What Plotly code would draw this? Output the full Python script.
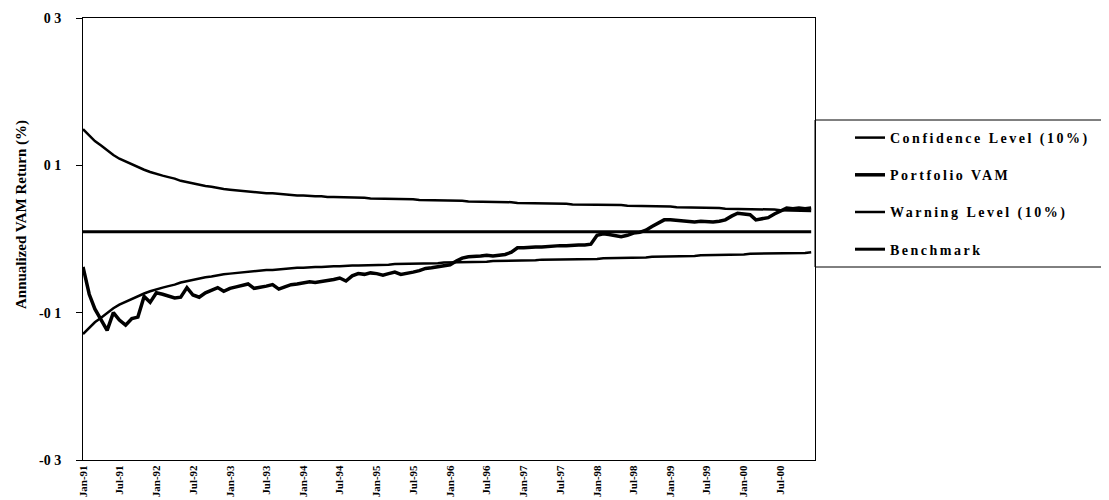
import pandas as pd
import plotly.graph_objects as go

# ---- data ----
start_month = "1991-01-01"

confidence = [0.149, 0.140, 0.133, 0.127, 0.120, 0.114, 0.109, 0.105, 0.101, 0.097,
              0.094, 0.091, 0.088, 0.086, 0.084, 0.082, 0.079, 0.077, 0.075, 0.073,
              0.072, 0.071, 0.069, 0.068, 0.067, 0.066, 0.065, 0.065, 0.064, 0.063,
              0.062, 0.062, 0.061, 0.060, 0.060, 0.059, 0.059, 0.058, 0.058, 0.058,
              0.057, 0.057, 0.057, 0.056, 0.056, 0.056, 0.056, 0.055, 0.055, 0.055,
              0.055, 0.054, 0.054, 0.054, 0.054, 0.053, 0.053, 0.053, 0.053, 0.052,
              0.052, 0.052, 0.052, 0.051, 0.051, 0.051, 0.051, 0.050, 0.050, 0.050,
              0.050, 0.049, 0.049, 0.049, 0.049, 0.048, 0.048, 0.048, 0.048, 0.048,
              0.047, 0.047, 0.047, 0.047, 0.047, 0.046, 0.046, 0.046, 0.046, 0.045,
              0.045, 0.045, 0.045, 0.044, 0.044, 0.044, 0.044, 0.043, 0.043, 0.043,
              0.043, 0.042, 0.042, 0.042, 0.042, 0.041, 0.041, 0.041, 0.041, 0.040,
              0.040, 0.040, 0.040, 0.040, 0.039, 0.039, 0.039, 0.039, 0.039, 0.038]

portfolio = [-0.038, -0.075, -0.095, -0.110, -0.124, -0.100, -0.110, -0.117, -0.108, -0.106,
             -0.078, -0.086, -0.073, -0.075, -0.077, -0.080, -0.079, -0.066, -0.076, -0.079,
             -0.073, -0.069, -0.066, -0.071, -0.067, -0.065, -0.063, -0.061, -0.067, -0.066,
             -0.064, -0.062, -0.068, -0.065, -0.062, -0.061, -0.060, -0.058, -0.059, -0.058,
             -0.057, -0.055, -0.053, -0.057, -0.050, -0.047, -0.048, -0.046, -0.047, -0.049,
             -0.047, -0.045, -0.048, -0.047, -0.045, -0.043, -0.040, -0.039, -0.038, -0.036,
             -0.035, -0.030, -0.026, -0.024, -0.024, -0.023, -0.022, -0.023, -0.022, -0.021,
             -0.018, -0.012, -0.012, -0.011, -0.011, -0.011, -0.010, -0.010, -0.009, -0.009,
             -0.008, -0.008, -0.008, -0.007, 0.005, 0.007, 0.006, 0.004, 0.003, 0.005,
             0.008, 0.009, 0.012, 0.017, 0.022, 0.026, 0.026, 0.025, 0.024, 0.023,
             0.023, 0.024, 0.023, 0.023, 0.024, 0.026, 0.031, 0.035, 0.034, 0.033,
             0.026, 0.027, 0.029, 0.034, 0.038, 0.042, 0.041, 0.042, 0.041, 0.042]

warning = [-0.129, -0.120, -0.113, -0.107, -0.100, -0.094, -0.089, -0.085, -0.081, -0.077,
           -0.074, -0.071, -0.068, -0.066, -0.064, -0.062, -0.059, -0.057, -0.055, -0.053,
           -0.052, -0.051, -0.049, -0.048, -0.047, -0.046, -0.045, -0.045, -0.044, -0.043,
           -0.042, -0.042, -0.041, -0.040, -0.040, -0.039, -0.039, -0.038, -0.038, -0.038,
           -0.037, -0.037, -0.037, -0.036, -0.036, -0.036, -0.036, -0.035, -0.035, -0.035,
           -0.035, -0.034, -0.034, -0.034, -0.034, -0.033, -0.033, -0.033, -0.033, -0.032,
           -0.032, -0.032, -0.032, -0.031, -0.031, -0.031, -0.031, -0.030, -0.030, -0.030,
           -0.030, -0.029, -0.029, -0.029, -0.029, -0.028, -0.028, -0.028, -0.028, -0.028,
           -0.027, -0.027, -0.027, -0.027, -0.027, -0.026, -0.026, -0.026, -0.026, -0.025,
           -0.025, -0.025, -0.025, -0.024, -0.024, -0.024, -0.024, -0.023, -0.023, -0.023,
           -0.023, -0.022, -0.022, -0.022, -0.022, -0.021, -0.021, -0.021, -0.021, -0.020,
           -0.020, -0.020, -0.020, -0.020, -0.019, -0.019, -0.019, -0.019, -0.019, -0.018]

benchmark = [0.01] * 120

x_tick_dates = ["1991-01-01", "1991-07-01", "1992-01-01", "1992-07-01", "1993-01-01",
                "1993-07-01", "1994-01-01", "1994-07-01", "1995-01-01", "1995-07-01",
                "1996-01-01", "1996-07-01", "1997-01-01", "1997-07-01", "1998-01-01",
                "1998-07-01", "1999-01-01", "1999-07-01", "2000-01-01", "2000-07-01"]
x_tick_labels = ["Jan-91", "Jul-91", "Jan-92", "Jul-92", "Jan-93", "Jul-93", "Jan-94",
                 "Jul-94", "Jan-95", "Jul-95", "Jan-96", "Jul-96", "Jan-97", "Jul-97",
                 "Jan-98", "Jul-98", "Jan-99", "Jul-99", "Jan-00", "Jul-00"]
y_tick_vals = [0.3, 0.1, -0.1, -0.3]
y_tick_labels = ["0 3", "0 1", "-0 1", "-0 3"]

series = [
    ("Confidence Level (10%)", confidence, 2.5),
    ("Portfolio VAM", portfolio, 3.5),
    ("Warning Level (10%)", warning, 2.5),
    ("Benchmark", benchmark, 3.0),
]

SERIF = "Liberation Serif, Times New Roman, serif"

fig = go.Figure()
for name, vals, w in series:
    dates = pd.date_range(start_month, periods=len(vals), freq="MS")
    fig.add_trace(go.Scatter(
        x=dates, y=vals, mode="lines",
        name='<span style="letter-spacing:2.5px">' + name + '</span>',
        legendgroup=name,
        line=dict(color="black", width=w)))

# the page body has an 8px margin, so the figure is sized to fit the window
OFF = 8
W, H = 1109 - OFF, 500 - OFF
L, R, T, B = 75, 294, 10, 40
pw, ph = W - L - R, H - T - B


def px_x(p):
    """page pixel x -> paper x"""
    return (p - OFF - L) / pw


def px_y(p):
    """page pixel y -> paper y"""
    return (H - B - (p - OFF)) / ph


fig.update_layout(
    width=W, height=H,
    margin=dict(l=L, r=R, t=T, b=B, autoexpand=False),
    paper_bgcolor="white", plot_bgcolor="white",
    font=dict(family=SERIF, color="black"),
    showlegend=True,
    legend=dict(
        x=px_x(850), y=px_y(122), xanchor="left", yanchor="top",
        bgcolor="rgba(0,0,0,0)", borderwidth=0,
        font=dict(family=SERIF, size=14, color="black", weight="bold"),
        tracegroupgap=16, traceorder="grouped",
    ),
    xaxis=dict(
        type="date", automargin=False,
        range=["1991-01-01", "2000-12-20"],
        tickvals=x_tick_dates, ticktext=x_tick_labels,
        tickangle=-90,
        tickfont=dict(family=SERIF, size=11, color="black", weight="bold"),
        showgrid=False, zeroline=False,
        showline=True, linecolor="black", linewidth=1, mirror=True,
        ticks="", ticklabelstandoff=0,
    ),
    yaxis=dict(
        range=[-0.3, 0.3], automargin=False,
        tickvals=y_tick_vals, ticktext=y_tick_labels,
        tickfont=dict(family=SERIF, size=14, color="black", weight="bold"),
        showgrid=False, zeroline=False,
        showline=True, linecolor="black", linewidth=1, mirror=True,
        ticks="outside", ticklen=6, tickcolor="black",
        ticklabelstandoff=12,
    ),
    shapes=[dict(type="rect", xref="paper", yref="paper",
                 x0=1.0, x1=px_x(1108.5), y0=px_y(267), y1=px_y(120),
                 line=dict(color="black", width=1), fillcolor="rgba(0,0,0,0)")],
    annotations=[dict(text="<b>Annualized VAM Return (%)</b>", xref="paper", yref="paper",
                      x=px_x(21), y=px_y(215), xanchor="center", yanchor="middle",
                      textangle=-90, showarrow=False,
                      font=dict(family=SERIF, size=15, color="black"))],
)

fig.write_html("out.html")
